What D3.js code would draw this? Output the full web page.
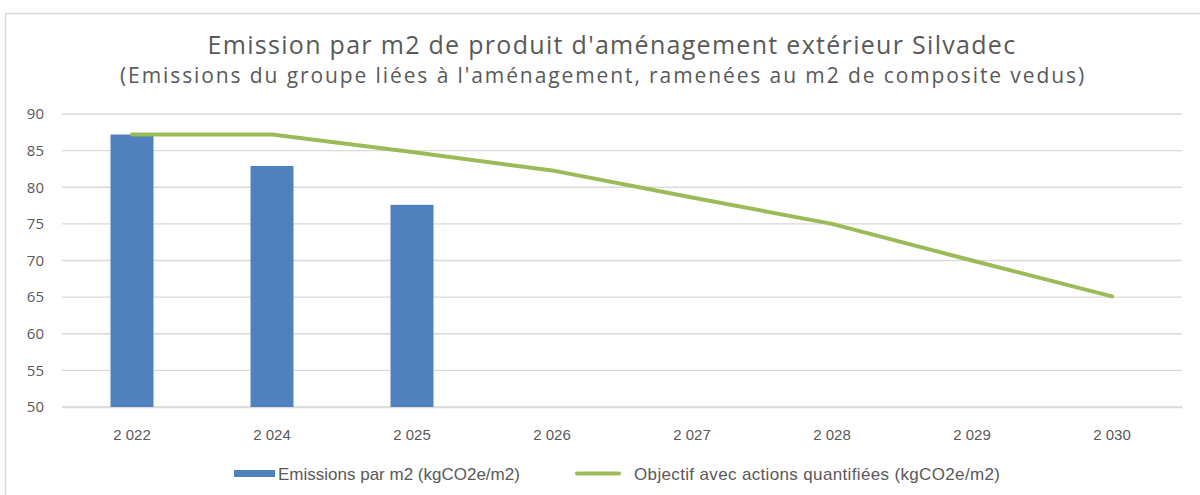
<!DOCTYPE html>
<html><head><meta charset="utf-8">
<script src="https://cdn.jsdelivr.net/npm/d3@7"></script>
<style>body{margin:0;background:#fff}svg{display:block}</style>
</head><body>
<script>
const categories = ["2 022","2 024","2 025","2 026","2 027","2 028","2 029","2 030"];
const emissions = [87.2, 82.9, 77.6, null, null, null, null, null];
const objectif = [87.2, 87.2, 84.8, 82.3, 78.6, 75.0, 70.0, 65.1];
const yTicks = [50,55,60,65,70,75,80,85,90];
const title = "Emission par m2 de produit d'aménagement extérieur Silvadec";
const subtitle = "(Emissions du groupe liées à l'aménagement, ramenées au m2 de composite vedus)";
const legendLabels = ["Emissions par m2 (kgCO2e/m2)", "Objectif avec actions quantifiées (kgCO2e/m2)"];

const W = 1200, H = 495;
const svg = d3.select("body").append("svg").attr("width", W).attr("height", H);
svg.append("rect").attr("x",5.5).attr("y",13.5).attr("width",W).attr("height",H).attr("fill","#fff").attr("stroke","#d9d9d9").attr("stroke-width",1.5);

const x = d3.scaleBand().domain(categories).range([62, 1182]);
const y = d3.scaleLinear().domain([50, 90]).range([407, 114]);
const txt = "#595959";

svg.append("text").attr("x", 612).attr("y", 54).attr("text-anchor","middle")
  .attr("font-family","'Open Sans', sans-serif").attr("font-size", 25).attr("letter-spacing", 1.3)
  .attr("fill", txt).text(title);
svg.append("text").attr("x", 603).attr("y", 83).attr("text-anchor","middle")
  .attr("font-family","'Open Sans', sans-serif").attr("font-size", 21).attr("font-weight",500)
  .attr("letter-spacing", 1.9).attr("fill", txt).text(subtitle);

// gridlines
svg.append("g").selectAll("line").data(yTicks).join("line")
  .attr("x1", 62).attr("x2", 1182).attr("y1", d=>y(d)).attr("y2", d=>y(d))
  .attr("stroke","#d9d9d9").attr("stroke-width",1.3);

// y axis labels
const yAxis = svg.append("g").attr("transform","translate(52,0)")
  .call(d3.axisLeft(y).tickValues(yTicks).tickSize(0).tickPadding(8));
yAxis.select(".domain").remove();
yAxis.selectAll("text").attr("font-family","'Open Sans', sans-serif").attr("font-size",15).attr("fill",txt);

// x axis
const xAxis = svg.append("g").attr("transform","translate(0,407)")
  .call(d3.axisBottom(x).tickSize(0).tickPadding(22));
xAxis.select(".domain").attr("stroke","#d9d9d9").attr("stroke-width",1.3);
xAxis.selectAll("text").attr("font-family","'Liberation Sans', sans-serif").attr("font-size",15).attr("fill",txt);

// bars
const bw = 43;
svg.append("g").selectAll("rect").data(categories.map((c,i)=>({c, v:emissions[i]})).filter(d=>d.v!=null)).join("rect")
  .attr("x", d=>x(d.c)+x.bandwidth()/2-bw/2).attr("width", bw)
  .attr("y", d=>y(d.v)).attr("height", d=>y(50)-y(d.v)).attr("fill","#4F81BD");

// line
const line = d3.line().x((d,i)=>x(categories[i])+x.bandwidth()/2).y(d=>y(d));
svg.append("path").datum(objectif).attr("d", line).attr("fill","none")
  .attr("stroke","#9BBB59").attr("stroke-width",4).attr("stroke-linecap","round").attr("stroke-linejoin","round");

// legend
const lg = svg.append("g").attr("font-family","'Liberation Sans', sans-serif").attr("font-size",17).attr("fill",txt);
lg.append("rect").attr("x",234).attr("y",470).attr("width",41).attr("height",7).attr("fill","#4F81BD");
lg.append("text").attr("x",278).attr("y",480).text(legendLabels[0]);
lg.append("line").attr("x1",577).attr("x2",619).attr("y1",473.5).attr("y2",473.5).attr("stroke","#9BBB59").attr("stroke-width",4).attr("stroke-linecap","round");
lg.append("text").attr("x",634).attr("y",480).attr("letter-spacing",0.35).text(legendLabels[1]);
</script>
</body></html>
